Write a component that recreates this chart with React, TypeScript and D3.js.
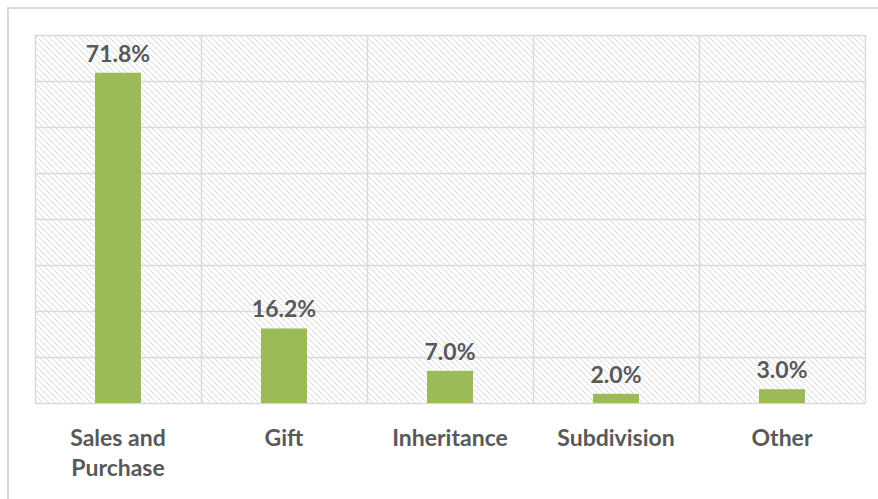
import * as d3 from "d3";
import { useEffect, useRef } from "react";

const categories = ["Sales and Purchase", "Gift", "Inheritance", "Subdivision", "Other"];
const shares = [71.8, 16.2, 7.0, 2.0, 3.0];
const yTicks = [0, 10, 20, 30, 40, 50, 60, 70, 80];

const App = () => {
  const svgRef = useRef<SVGSVGElement | null>(null);

  useEffect(() => {
    if (!svgRef.current) return;

    const width = 878;
    const height = 499;
    const margin = { top: 35, right: 13, bottom: 96, left: 35 };
    const font = "Lato, 'Open Sans', sans-serif";
    const textColor = "#595959";

    const svg = d3.select(svgRef.current);
    svg.selectAll("*").remove();

    const x = d3
      .scaleBand<string>()
      .domain(categories)
      .range([margin.left, width - margin.right])
      .padding(0);

    const y = d3
      .scaleLinear()
      .domain([0, 80])
      .range([height - margin.bottom, margin.top]);

    // hatch pattern for the plot background
    const defs = svg.append("defs");
    const pat = defs
      .append("pattern")
      .attr("id", "hatch")
      .attr("patternUnits", "userSpaceOnUse")
      .attr("width", 6)
      .attr("height", 6);
    pat
      .append("path")
      .attr("d", "M-1,-1 L7,7 M-1,5 L1,7 M5,-1 L7,1")
      .attr("stroke", "#d9d9d9")
      .attr("stroke-width", 1);

    // outer border
    svg
      .append("rect")
      .attr("x", 8)
      .attr("y", 8)
      .attr("width", width + 10)
      .attr("height", height + 10)
      .attr("fill", "#fff")
      .attr("stroke", "#d9d9d9")
      .attr("stroke-width", 2);

    const plotW = width - margin.left - margin.right;
    const plotH = height - margin.top - margin.bottom;

    svg
      .append("rect")
      .attr("x", margin.left)
      .attr("y", margin.top)
      .attr("width", plotW)
      .attr("height", plotH)
      .attr("fill", "url(#hatch)");

    // horizontal gridlines
    svg
      .append("g")
      .selectAll("line")
      .data(yTicks)
      .join("line")
      .attr("x1", margin.left)
      .attr("x2", width - margin.right)
      .attr("y1", (d) => Math.round(y(d)) + 0.5)
      .attr("y2", (d) => Math.round(y(d)) + 0.5)
      .attr("stroke", "#d9d9d9")
      .attr("stroke-width", 1.5);

    // vertical category dividers
    const edges = categories.map((c) => x(c) as number).concat([width - margin.right]);
    svg
      .append("g")
      .selectAll("line")
      .data(edges)
      .join("line")
      .attr("x1", (d) => Math.round(d) + 0.5)
      .attr("x2", (d) => Math.round(d) + 0.5)
      .attr("y1", margin.top)
      .attr("y2", height - margin.bottom)
      .attr("stroke", "#d9d9d9")
      .attr("stroke-width", 1.5);

    // bars
    const barW = x.bandwidth() * 0.277;
    svg
      .append("g")
      .selectAll("rect")
      .data(shares)
      .join("rect")
      .attr("x", (_, i) => (x(categories[i]) as number) + x.bandwidth() / 2 - barW / 2)
      .attr("y", (d) => y(d))
      .attr("width", barW)
      .attr("height", (d) => y(0) - y(d))
      .attr("fill", "#9bbb59");

    // value labels
    svg
      .append("g")
      .selectAll("text")
      .data(shares)
      .join("text")
      .attr("x", (_, i) => (x(categories[i]) as number) + x.bandwidth() / 2)
      .attr("y", (d) => y(d) - 11)
      .attr("text-anchor", "middle")
      .attr("font-family", font)
      .attr("font-weight", "bold")
      .attr("font-size", 23)
      .attr("fill", textColor)
      .text((d) => `${d.toFixed(1)}%`);

    // category labels, wrapped when long
    const wrap = (s: string) => (s.length > 12 ? [s.slice(0, s.lastIndexOf(" ")), s.slice(s.lastIndexOf(" ") + 1)] : [s]);
    const labels = svg
      .append("g")
      .selectAll("text")
      .data(categories)
      .join("text")
      .attr("x", (d) => (x(d) as number) + x.bandwidth() / 2)
      .attr("y", height - margin.bottom + 43)
      .attr("text-anchor", "middle")
      .attr("font-family", font)
      .attr("font-weight", "bold")
      .attr("font-size", 23)
      .attr("fill", textColor);
    labels.each(function (d) {
      const t = d3.select(this);
      wrap(d).forEach((line, i) => {
        t.append("tspan")
          .attr("x", (x(d) as number) + x.bandwidth() / 2)
          .attr("dy", i === 0 ? 0 : 30)
          .text(line);
      });
    });
  }, []);

  return (
    <svg
      ref={svgRef}
      width={878}
      height={499}
      style={{ position: "absolute", left: 0, top: 0, background: "#fff" }}
    ></svg>
  );
};

export default App;
